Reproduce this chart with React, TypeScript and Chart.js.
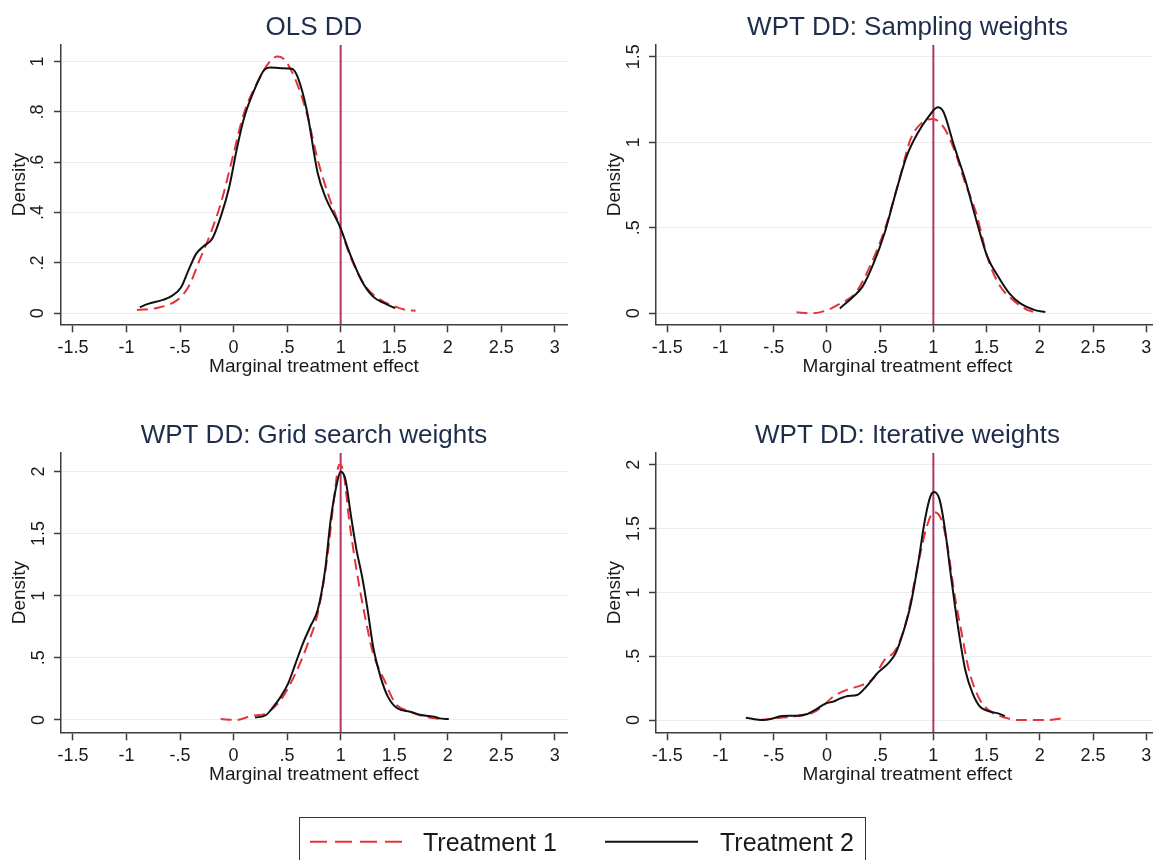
import React, { useEffect, useRef } from 'react';
import { Chart, registerables } from 'chart.js';

Chart.register(...registerables);

const FONT = "'Liberation Sans', Arial, Helvetica, sans-serif";
const RED = '#e3333b';
const BLACK = '#111111';
const REF_COLOR = '#b33462';
const AXIS_COLOR = '#3c3c3c';
const GRID_COLOR = '#ececec';
const TITLE_COLOR = '#1f2d4d';
const TEXT_COLOR = '#1a1a1a';

// ---------- tick labels ----------
const xTickValues = [-1.5, -1, -0.5, 0, 0.5, 1, 1.5, 2, 2.5, 3];
const xTickLabels = ['-1.5', '-1', '-.5', '0', '.5', '1', '1.5', '2', '2.5', '3'];

const olsYTicks = [0, 0.2, 0.4, 0.6, 0.8, 1];
const olsYLabels = ['0', '.2', '.4', '.6', '.8', '1'];
const samplingYTicks = [0, 0.5, 1, 1.5];
const samplingYLabels = ['0', '.5', '1', '1.5'];
const wideYTicks = [0, 0.5, 1, 1.5, 2];
const wideYLabels = ['0', '.5', '1', '1.5', '2'];

const panelTitles = [
  'OLS DD',
  'WPT DD: Sampling weights',
  'WPT DD: Grid search weights',
  'WPT DD: Iterative weights',
];
const seriesNames = ['Treatment 1', 'Treatment 2'];
const xAxisTitle = 'Marginal treatment effect';
const yAxisTitle = 'Density';
const referenceX = 1;

// ---------- series values [x, density] ----------
const olsT1 = [
  [-0.903, 0.013], [-0.73, 0.02], [-0.524, 0.053], [-0.42, 0.106], [-0.317, 0.212],
  [-0.214, 0.318], [-0.11, 0.45], [-0.007, 0.623], [0.097, 0.795], [0.234, 0.927],
  [0.338, 1.0], [0.407, 1.02], [0.476, 1.007], [0.579, 0.927], [0.683, 0.795],
  [0.786, 0.609], [0.89, 0.464], [0.993, 0.344], [1.097, 0.218], [1.234, 0.106],
  [1.372, 0.053], [1.51, 0.026], [1.614, 0.013], [1.7, 0.01],
];
const olsT2 = [
  [-0.876, 0.024], [-0.8, 0.037], [-0.66, 0.053], [-0.576, 0.069], [-0.49, 0.103],
  [-0.42, 0.172], [-0.35, 0.236], [-0.283, 0.265], [-0.197, 0.298], [-0.11, 0.397],
  [-0.04, 0.503], [0.028, 0.649], [0.097, 0.775], [0.2, 0.894], [0.286, 0.967],
  [0.338, 0.977], [0.441, 0.974], [0.545, 0.972], [0.597, 0.94], [0.683, 0.808],
  [0.786, 0.556], [0.855, 0.464], [0.993, 0.344], [1.097, 0.225], [1.2, 0.126],
  [1.303, 0.066], [1.407, 0.04], [1.51, 0.02],
];
const samplingT1 = [
  [-0.286, 0.006], [-0.148, 0.0], [-0.01, 0.016], [0.128, 0.058], [0.266, 0.117],
  [0.403, 0.273], [0.541, 0.487], [0.679, 0.779], [0.783, 1.013], [0.886, 1.11],
  [0.99, 1.136], [1.093, 1.091], [1.197, 0.955], [1.3, 0.76], [1.403, 0.584],
  [1.507, 0.331], [1.61, 0.175], [1.748, 0.078], [1.886, 0.019], [1.938, 0.01],
];
const samplingT2 = [
  [0.121, 0.029], [0.231, 0.088], [0.334, 0.156], [0.438, 0.292], [0.541, 0.468],
  [0.645, 0.701], [0.748, 0.916], [0.852, 1.052], [0.955, 1.149], [1.041, 1.204],
  [1.093, 1.179], [1.197, 0.974], [1.3, 0.779], [1.403, 0.545], [1.507, 0.331],
  [1.61, 0.214], [1.714, 0.117], [1.817, 0.058], [1.955, 0.019], [2.052, 0.008],
];
const gridT1 = [
  [-0.121, 0.008], [0.028, 0.0], [0.166, 0.032], [0.303, 0.054], [0.441, 0.161],
  [0.579, 0.376], [0.683, 0.591], [0.786, 0.859], [0.872, 1.289], [0.941, 1.799],
  [0.986, 2.054], [1.028, 1.987], [1.079, 1.611], [1.148, 1.208], [1.234, 0.805],
  [1.303, 0.537], [1.407, 0.322], [1.51, 0.134], [1.648, 0.067], [1.786, 0.027],
  [1.924, 0.008],
];
const gridT2 = [
  [0.2, 0.019], [0.303, 0.04], [0.372, 0.107], [0.441, 0.188], [0.51, 0.295],
  [0.579, 0.456], [0.648, 0.617], [0.717, 0.752], [0.786, 0.886], [0.855, 1.208],
  [0.907, 1.611], [0.959, 1.879], [1.0, 2.0], [1.045, 1.933], [1.097, 1.638],
  [1.148, 1.369], [1.2, 1.154], [1.252, 0.886], [1.303, 0.591], [1.372, 0.349],
  [1.441, 0.188], [1.528, 0.094], [1.648, 0.067], [1.752, 0.04], [1.821, 0.032],
  [1.872, 0.027], [1.924, 0.013], [2.01, 0.008],
];
const iterativeT1 = [
  [-0.631, 0.0], [-0.493, 0.013], [-0.286, 0.031], [-0.148, 0.052], [-0.045, 0.105],
  [0.059, 0.183], [0.197, 0.24], [0.334, 0.275], [0.438, 0.327], [0.541, 0.471],
  [0.645, 0.549], [0.748, 0.784], [0.852, 1.203], [0.938, 1.516], [1.007, 1.629],
  [1.076, 1.569], [1.128, 1.386], [1.197, 0.993], [1.266, 0.68], [1.334, 0.392],
  [1.438, 0.157], [1.541, 0.065], [1.679, 0.018], [1.783, 0.0], [1.921, 0.0],
  [2.059, 0.0], [2.248, 0.018],
];
const iterativeT2 = [
  [-0.762, 0.018], [-0.666, 0.005], [-0.597, 0.0], [-0.528, 0.008], [-0.424, 0.031],
  [-0.286, 0.034], [-0.183, 0.047], [-0.114, 0.078], [-0.01, 0.131], [0.059, 0.144],
  [0.128, 0.17], [0.197, 0.188], [0.283, 0.196], [0.369, 0.261], [0.472, 0.366],
  [0.576, 0.444], [0.645, 0.523], [0.714, 0.68], [0.783, 0.889], [0.852, 1.203],
  [0.921, 1.569], [0.972, 1.752], [1.007, 1.786], [1.059, 1.725], [1.11, 1.49],
  [1.162, 1.15], [1.231, 0.732], [1.3, 0.392], [1.369, 0.209], [1.438, 0.105],
  [1.541, 0.065], [1.61, 0.052], [1.672, 0.031],
];

type PanelCfg = {
  title: string;
  t1: number[][];
  t2: number[][];
  yTicks: number[];
  yLabels: string[];
  left: number;
  top: number;
  width: number;
  height: number;
  yAxisWidth: number;
  rightPad: number;
  xMin: number;
  xMax: number;
  yMin: number;
  yMax: number;
  yTickPad: number;
  yTitlePad: number;
};

const panels: PanelCfg[] = [
  {
    title: panelTitles[0], t1: olsT1, t2: olsT2, yTicks: olsYTicks, yLabels: olsYLabels,
    left: 0, top: 0, width: 576, height: 390, yAxisWidth: 61, rightPad: 9,
    xMin: -1.612, xMax: 3.114, yMin: -0.044, yMax: 1.066, yTickPad: 8, yTitlePad: 8.6,
  },
  {
    title: panelTitles[1], t1: samplingT1, t2: samplingT2, yTicks: samplingYTicks, yLabels: samplingYLabels,
    left: 576, top: 0, width: 583, height: 390, yAxisWidth: 80, rightPad: 0,
    xMin: -1.606, xMax: 3.12, yMin: -0.064, yMax: 1.568, yTickPad: 2.2, yTitlePad: 27.3,
  },
  {
    title: panelTitles[2], t1: gridT1, t2: gridT2, yTicks: wideYTicks, yLabels: wideYLabels,
    left: 0, top: 408, width: 576, height: 390, yAxisWidth: 61, rightPad: 9,
    xMin: -1.612, xMax: 3.114, yMin: -0.099, yMax: 2.148, yTickPad: 2.2, yTitlePad: 8.6,
  },
  {
    title: panelTitles[3], t1: iterativeT1, t2: iterativeT2, yTicks: wideYTicks, yLabels: wideYLabels,
    left: 576, top: 408, width: 583, height: 390, yAxisWidth: 80, rightPad: 0,
    xMin: -1.606, xMax: 3.12, yMin: -0.096, yMax: 2.092, yTickPad: 2.2, yTitlePad: 27.3,
  },
];

function toPoints(arr: number[][]) {
  return arr.map(([x, y]) => ({ x, y }));
}

function Panel({ cfg }: { cfg: PanelCfg }) {
  const ref = useRef<HTMLCanvasElement>(null);
  useEffect(() => {
    const canvas = ref.current;
    if (!canvas) return;
    const chart = new Chart(canvas, {
      type: 'line',
      data: {
        datasets: [
          {
            label: seriesNames[1],
            data: toPoints(cfg.t2),
            borderColor: BLACK,
            borderWidth: 2,
            pointRadius: 0,
            cubicInterpolationMode: 'monotone',
            fill: false,
          },
          {
            label: seriesNames[0],
            data: toPoints(cfg.t1),
            borderColor: RED,
            borderWidth: 2,
            borderDash: [11, 6],
            pointRadius: 0,
            cubicInterpolationMode: 'monotone',
            fill: false,
          },
          {
            label: 'reference',
            data: [
              { x: referenceX, y: cfg.yMin },
              { x: referenceX, y: cfg.yMax },
            ],
            borderColor: REF_COLOR,
            borderWidth: 2,
            pointRadius: 0,
            tension: 0,
            fill: false,
          },
        ],
      },
      options: {
        responsive: false,
        animation: false,
        devicePixelRatio: 1,
        layout: { padding: { left: 0, right: cfg.rightPad, top: 0, bottom: 0 } },
        plugins: {
          legend: { display: false },
          tooltip: { enabled: false },
          title: {
            display: true,
            text: cfg.title,
            color: TITLE_COLOR,
            font: { family: FONT, size: 26, weight: 'normal', lineHeight: 1.2 },
            padding: { top: 12, bottom: 1.8 },
            fullSize: false,
          },
        },
        scales: {
          x: {
            type: 'linear',
            min: cfg.xMin,
            max: cfg.xMax,
            afterBuildTicks: (axis: any) => {
              axis.ticks = xTickValues.map((v) => ({ value: v }));
            },
            afterFit: (axis: any) => {
              axis.height = cfg.height - 324.3;
            },
            ticks: {
              autoSkip: false,
              maxRotation: 0,
              minRotation: 0,
              padding: 5.2,
              color: TEXT_COLOR,
              font: { family: FONT, size: 18 },
              callback: (_v: any, i: number) => xTickLabels[i],
            },
            grid: {
              drawOnChartArea: false,
              drawTicks: true,
              tickLength: 8,
              tickColor: AXIS_COLOR,
              tickWidth: 1.5,
            },
            border: { display: true, color: AXIS_COLOR, width: 1.5 },
            title: {
              display: true,
              text: xAxisTitle,
              color: TEXT_COLOR,
              font: { family: FONT, size: 19 },
              padding: { top: 0, bottom: 11.9 },
            },
          },
          y: {
            type: 'linear',
            min: cfg.yMin,
            max: cfg.yMax,
            afterBuildTicks: (axis: any) => {
              axis.ticks = cfg.yTicks.map((v) => ({ value: v }));
            },
            afterFit: (axis: any) => {
              axis.width = cfg.yAxisWidth;
            },
            ticks: {
              autoSkip: false,
              minRotation: 90,
              maxRotation: 90,
              crossAlign: 'center',
              padding: cfg.yTickPad,
              color: TEXT_COLOR,
              font: { family: FONT, size: 18 },
              callback: (_v: any, i: number) => cfg.yLabels[i],
            },
            grid: {
              drawOnChartArea: true,
              drawTicks: true,
              tickLength: 7,
              color: GRID_COLOR,
              lineWidth: 1,
              tickColor: AXIS_COLOR,
              tickWidth: 1.5,
            },
            border: { display: true, color: AXIS_COLOR, width: 1.5 },
            title: {
              display: true,
              text: yAxisTitle,
              color: TEXT_COLOR,
              font: { family: FONT, size: 19 },
              padding: { top: cfg.yTitlePad, bottom: 0 },
            },
          },
        },
      } as any,
    });
    return () => chart.destroy();
  }, [cfg]);
  return (
    <canvas
      ref={ref}
      width={cfg.width}
      height={cfg.height}
      style={{ position: 'absolute', left: cfg.left, top: cfg.top, width: cfg.width, height: cfg.height }}
    />
  );
}

export default function App() {
  const legendText: React.CSSProperties = {
    position: 'absolute',
    top: 830,
    fontFamily: FONT,
    fontSize: 25,
    lineHeight: '25px',
    color: TEXT_COLOR,
    whiteSpace: 'nowrap',
  };
  return (
    <div
      style={{
        position: 'absolute',
        left: 0,
        top: 0,
        width: 1153,
        height: 860,
        overflow: 'hidden',
        background: '#ffffff',
      }}
    >
      {panels.map((p, i) => (
        <Panel key={i} cfg={p} />
      ))}
      <div
        style={{
          position: 'absolute',
          left: 299,
          top: 817,
          width: 567,
          height: 60,
          border: '1.5px solid #333',
          boxSizing: 'border-box',
        }}
      />
      <svg width={1153} height={860} style={{ position: 'absolute', left: 0, top: 0 }}>
        <line x1={310} y1={841.7} x2={402} y2={841.7} stroke={RED} strokeWidth={2} strokeDasharray="17 8" />
        <line x1={605} y1={841.7} x2={698} y2={841.7} stroke={BLACK} strokeWidth={2} />
      </svg>
      <span style={{ ...legendText, left: 423 }}>{seriesNames[0]}</span>
      <span style={{ ...legendText, left: 720 }}>{seriesNames[1]}</span>
    </div>
  );
}
